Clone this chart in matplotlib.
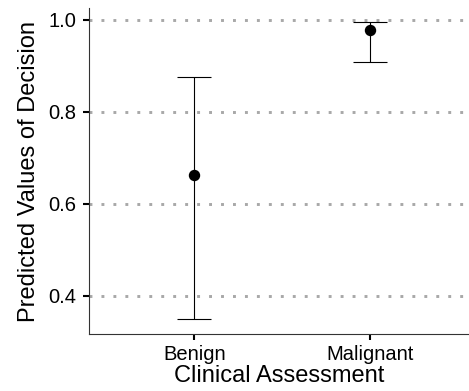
import matplotlib
matplotlib.use("Agg")
import matplotlib.pyplot as plt

categories = ["Benign", "Malignant"]
predicted = [0.662, 0.977]
ci_low = [0.350, 0.908]
ci_high = [0.876, 0.994]
yticks = [0.4, 0.6, 0.8, 1.0]
ytick_labels = ["0.4", "0.6", "0.8", "1.0"]

plt.rcParams['font.family'] = ['Liberation Sans', 'DejaVu Sans']

fig = plt.figure(figsize=(4.69, 3.91), dpi=100)
ax = fig.add_axes([0.1898, 0.1458, 0.8102, 0.8337])

x = list(range(len(categories)))
for yv in yticks:
    ax.axhline(yv, color="#a8a8a8", lw=2.1, linestyle=(0, (1, 3.1)),
               dash_capstyle="butt", zorder=0)

yerr = [[p - l for p, l in zip(predicted, ci_low)],
        [h - p for p, h in zip(predicted, ci_high)]]
ax.errorbar(x, predicted, yerr=yerr, fmt="o", color="black", ms=7.2,
            elinewidth=0.8, capsize=12.3, capthick=0.8, zorder=3)

ax.set_xlim(-0.6, 1.564)
ax.set_ylim(0.3175, 1.025)
ax.set_xticks(x)
ax.set_xticklabels(categories)
ax.set_yticks(yticks)
ax.set_yticklabels(ytick_labels)

for s in ["top", "right"]:
    ax.spines[s].set_visible(False)
for s in ["left", "bottom"]:
    ax.spines[s].set_linewidth(0.8)
    ax.spines[s].set_color("#333333")
ax.tick_params(axis="both", direction="out", length=4, width=1.5,
               colors="black", labelsize=14.5)
ax.tick_params(axis="y", pad=5)
ax.tick_params(axis="x", pad=4)

ax.set_xlabel("Clinical Assessment", fontsize=17, labelpad=1)
ax.set_ylabel("Predicted Values of Decision", fontsize=17, labelpad=6)

fig.savefig("out.png", dpi=100)
